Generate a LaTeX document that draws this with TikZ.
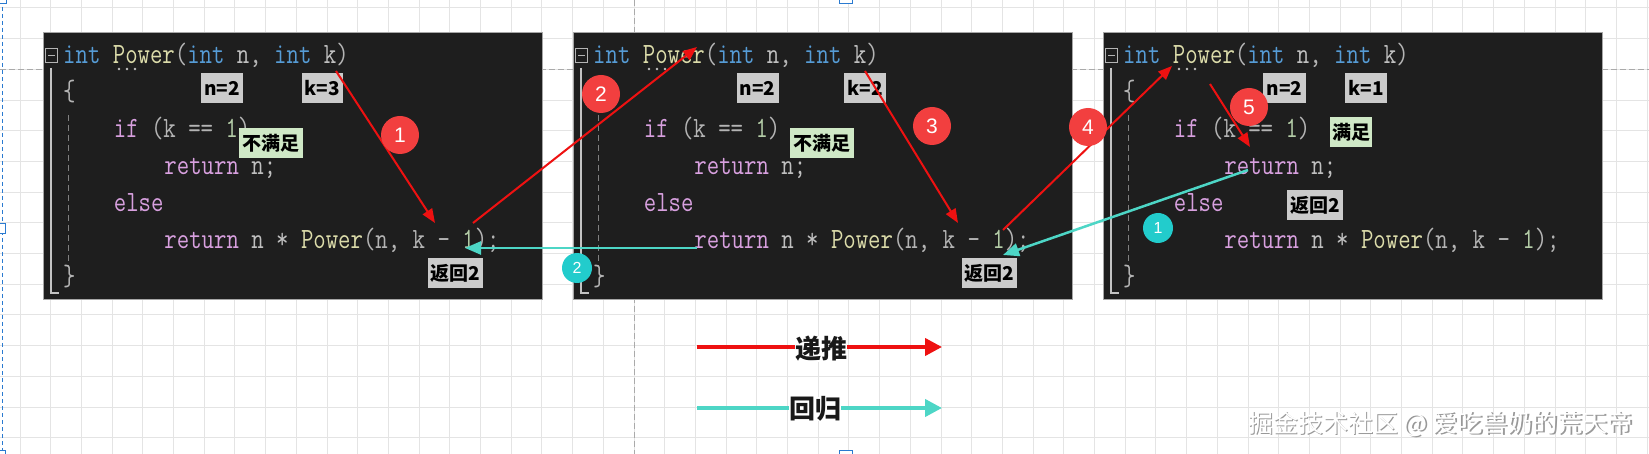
\documentclass[tikz,border=0pt]{standalone}
\usepackage{fontspec}
\setmainfont{Liberation Sans}
\newfontfamily\cjk{Noto Sans CJK SC}
\usetikzlibrary{arrows.meta}

\definecolor{panelbg}{HTML}{1E1E1E}
\definecolor{kwblue}{HTML}{569CD6}
\definecolor{fnyel}{HTML}{DCDCAA}
\definecolor{ctrl}{HTML}{D8A0DF}
\definecolor{punc}{HTML}{B4B4B4}
\definecolor{param}{HTML}{C0C0C0}
\definecolor{numc}{HTML}{B5CEA8}
\definecolor{gridc}{HTML}{E4E4E4}
\definecolor{guidec}{HTML}{AAAAAA}
\definecolor{selblue}{HTML}{2A7AD0}
\definecolor{arrred}{HTML}{EE1111}
\definecolor{arrteal}{HTML}{4DD6C6}
\definecolor{circred}{HTML}{F23F3F}
\definecolor{circteal}{HTML}{22CCCC}
\definecolor{tagg}{HTML}{CBCBCB}
\definecolor{taggreen}{HTML}{CFE8C6}

\newcommand{\codetext}[1]{\scalebox{1}[1.22]{#1}}

\tikzset{
  panel/.style={fill=panelbg, draw=gray!70, line width=0.8pt, minimum width=499pt, minimum height=267pt, inner sep=0pt, anchor=north west},
  codeline/.style={anchor=base west, inner sep=0pt, font=\fontsize{24.1}{24.1}\selectfont\ttfamily\frenchspacing},
  tag/.style={fill=tagg, inner sep=0pt, minimum height=30pt, font=\fontsize{19}{19}\selectfont\cjk\bfseries, text=black},
  tagok/.style={tag, fill=taggreen},
  redcirc/.style={circle, fill=circred, minimum size=38pt, inner sep=0pt, text=white, font=\fontsize{21}{21}\selectfont},
  tealcirc/.style={circle, fill=circteal, minimum size=30pt, inner sep=0pt, text=white, font=\fontsize{16}{16}\selectfont},
  redarrow/.style={draw=arrred, line width=2pt, -{Triangle[length=14pt,width=11pt]}},
  tealarrow/.style={draw=arrteal, line width=2.5pt, -{Triangle[length=16pt,width=13pt]}},
  legred/.style={draw=arrred, line width=4pt, -{Triangle[length=17pt,width=17pt]}},
  legteal/.style={draw=arrteal, line width=4pt, -{Triangle[length=17pt,width=17pt]}},
  legtext/.style={fill=white, inner sep=0pt, font=\fontsize{26}{26}\selectfont\cjk\bfseries, text=black!90},
  wmark/.style={anchor=west, inner sep=0pt, font=\fontsize{25}{25}\selectfont\cjk},
}

\begin{document}
\begin{tikzpicture}[x=1pt,y=-1pt]
\useasboundingbox (0,0) rectangle (1649,454);
\clip (0,0) rectangle (1649,454);
\fill[white] (0,0) rectangle (1649,454);

% grid
\foreach \k in {0,...,53} \draw[gridc, line width=1pt] (20+\k*30.7,0) -- (20+\k*30.7,454);
\foreach \k in {0,...,14} \draw[gridc, line width=1pt] (0,8+\k*30.7) -- (1649,8+\k*30.7);
% guides
\draw[guidec, line width=1pt, dash pattern=on 6pt off 3pt] (0,69.4) -- (1649,69.4);
\draw[guidec, line width=1pt, dash pattern=on 6pt off 3pt] (634,0) -- (634,454);
% selection
\draw[selblue, line width=1pt, dash pattern=on 4pt off 3pt] (2,0) -- (2,454);
\draw[selblue, fill=white, line width=1pt] (-4,-4) rectangle (6,4);
\draw[selblue, fill=white, line width=1pt] (839,-4) rectangle (852,4);
\draw[selblue, fill=white, line width=1pt] (-4,224) rectangle (5,234);
\draw[selblue, fill=white, line width=1pt] (839,450) rectangle (852,458);
\draw[selblue, fill=white, line width=1pt] (-4,450) rectangle (5,458);

% panels with code
\foreach \i/\p in {1/43,2/573,3/1103} {
  \node[panel] (p\i) at (\p,32) {};
  \draw[punc, line width=1pt] (\p+2.5,48.5) rectangle (\p+14.5,62.5);
  \draw[punc, line width=1.6pt] (\p+5,55.5) -- (\p+12,55.5);
  \draw[punc!80, line width=1.5pt] (\p+8,68) -- (\p+8,293) -- (\p+16,293);
  \draw[gray, line width=1pt, dash pattern=on 6pt off 4pt] (\p+25,115) -- (\p+25,268);
  \fill[param] (\p+76,69) circle (1.4pt) (\p+84,69) circle (1.4pt) (\p+92,69) circle (1.4pt);
  \node[codeline] (c\i a) at (\p+20,64) {\codetext{\textcolor{kwblue}{int}~\textcolor{fnyel}{Power}\textcolor{punc}{(}\textcolor{kwblue}{int}~\textcolor{param}{n}\textcolor{punc}{,}~\textcolor{kwblue}{int}~\textcolor{param}{k}\textcolor{punc}{)}}};
  \node[codeline] (c\i b) at (\p+20,101) {\codetext{\textcolor{punc}{\{}}};
  \node[codeline] (c\i c) at (\p+20+4*12.66,138) {\codetext{\textcolor{ctrl}{if}~\textcolor{punc}{(k~==~}\textcolor{numc}{1}\textcolor{punc}{)}}};
  \node[codeline] (c\i d) at (\p+20+8*12.66,175) {\codetext{\textcolor{ctrl}{return}~\textcolor{param}{n;}}};
  \node[codeline] (c\i e) at (\p+20+4*12.66,212) {\codetext{\textcolor{ctrl}{else}}};
  \node[codeline] (c\i f) at (\p+20+8*12.66,249) {\codetext{\textcolor{ctrl}{return}~\textcolor{param}{n~*~}\textcolor{fnyel}{Power}\textcolor{punc}{(n,~k~-~}\textcolor{numc}{1}\textcolor{punc}{);}}};
  \node[codeline] (c\i g) at (\p+20,286) {\codetext{\textcolor{punc}{\}}}};
}

% tags
\node[tag, minimum width=42pt] (n1) at (222,88) {n=2};
\node[tag, minimum width=41pt] (k1) at (322.5,88) {k=3};
\node[tagok, minimum width=64pt] (s1) at (271,143) {不满足};
\node[tag, minimum width=55pt] (r1) at (455.5,273) {返回2};

\node[tag, minimum width=42pt] (n2) at (757.5,88) {n=2};
\node[tag, minimum width=42pt] (k2) at (865,88) {k=2};
\node[tagok, minimum width=64pt] (s2) at (821.5,143) {不满足};
\node[tag, minimum width=55pt] (r2) at (989.5,273) {返回2};

\node[tag, minimum width=43pt] (n3) at (1284.5,88) {n=2};
\node[tag, minimum width=42pt] (k3) at (1366,88) {k=1};
\node[tagok, minimum width=42pt] (s3) at (1351,132) {满足};
\node[tag, minimum width=56pt] (r3) at (1315,205) {返回2};

% arrow end points
\coordinate (a1s) at (336,71);   \coordinate (a1e) at (435,223);
\coordinate (a2s) at (473,223);  \coordinate (a2e) at (697,47);
\coordinate (a3s) at (865,71);   \coordinate (a3e) at (958,223);
\coordinate (a4s) at (1003,230); \coordinate (a4e) at (1172,66);
\coordinate (a5s) at (1210,84);  \coordinate (a5e) at (1250,147);
\coordinate (t1s) at (1248,170); \coordinate (t1e) at (1003,255);
\coordinate (t2s) at (697,248);  \coordinate (t2e) at (465,248);

\draw[redarrow] (a1s) -- (a1e);
\draw[redarrow] (a2s) -- (a2e);
\draw[redarrow] (a3s) -- (a3e);
\draw[redarrow] (a4s) -- (a4e);
\draw[redarrow] (a5s) -- (a5e);
\draw[tealarrow] (t1s) -- (t1e);
\draw[tealarrow] (t2s) -- (t2e);

% step circles
\node[redcirc] (o1) at (400,135) {1};
\node[redcirc] (o2) at (601,94) {2};
\node[redcirc] (o3) at (932,126) {3};
\node[redcirc] (o4) at (1088,127) {4};
\node[redcirc] (o5) at (1249,107) {5};
\node[tealcirc] (q2) at (577,268) {2};
\node[tealcirc] (q1) at (1158,228) {1};

% legend
\coordinate (l1s) at (697,347); \coordinate (l1e) at (942,347);
\coordinate (l2s) at (697,408); \coordinate (l2e) at (942,408);
\draw[legred] (l1s) -- (l1e);
\draw[legteal] (l2s) -- (l2e);
\node[legtext] (lt1) at (821,349) {递推};
\node[legtext] (lt2) at (815,409) {回归};

% watermark
\node[wmark, text=gray!80] (wms) at (1249.2,425.2) {掘金技术社区 @ 爱吃兽奶的荒天帝};
\node[wmark, text=white] (wm) at (1247.8,423.8) {掘金技术社区 @ 爱吃兽奶的荒天帝};
\end{tikzpicture}
\end{document}
